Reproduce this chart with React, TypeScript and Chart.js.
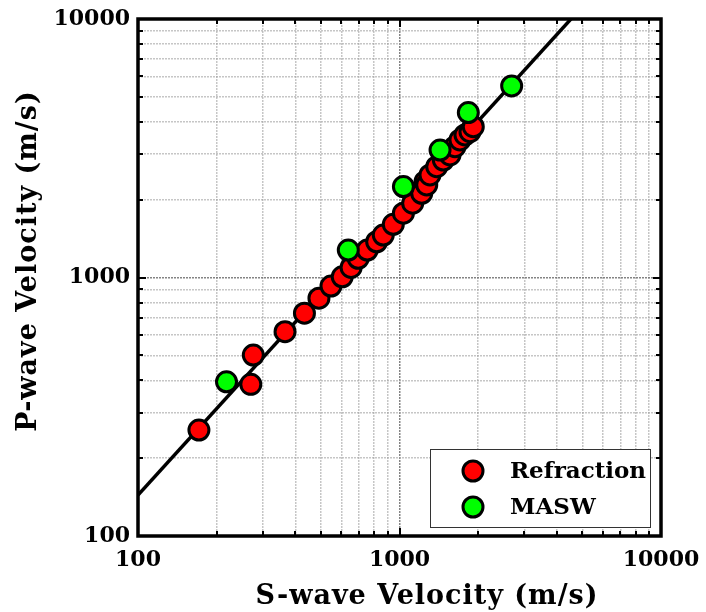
import React, { useEffect, useRef } from 'react';
import { Chart, registerables } from 'chart.js';

Chart.register(...registerables);

// Seismic refraction picks: S-wave and P-wave velocities (m/s)
const refractionVs = [171, 270, 276, 365, 433, 492, 547, 604, 653, 695, 753, 818, 867, 947, 1035, 1123, 1216, 1252, 1271, 1308, 1388, 1471, 1560, 1630, 1703, 1780, 1860, 1915];
const refractionVp = [257, 386, 501, 617, 728, 832, 927, 1006, 1094, 1186, 1277, 1375, 1459, 1606, 1773, 1938, 2118, 2348, 2280, 2492, 2683, 2848, 2978, 3207, 3404, 3559, 3665, 3832];

// MASW estimates
const maswVs = [218, 637, 1035, 1429, 1833, 2685];
const maswVp = [395, 1277, 2248, 3111, 4345, 5509];

// Power-law trend line, given by its two end points
const fitVs = [100, 5000];
const fitVp = [144, 11170];

const axisMin = 100;
const axisMax = 10000;
const tickLabels = ['100', '1000', '10000'];
const xTitle = 'S-wave Velocity (m/s)';
const yTitle = 'P-wave Velocity (m/s)';
const legendLabels = ['Refraction', 'MASW'];

const FONT = '"DejaVu Serif", "Liberation Serif", serif';
const MAJOR_GRID = 'rgba(110,110,110,0.85)';
const MINOR_GRID = 'rgba(160,160,160,0.6)';

const isMajor = (v: number) => {
  const l = Math.log10(v);
  return Math.abs(l - Math.round(l)) < 1e-9;
};

// 1..9 x 10^k positions for log grid lines
const decadeTicks = (min: number, max: number) => {
  const out: { value: number }[] = [];
  for (let d = min; d < max; d *= 10) {
    for (let m = 1; m < 10; m++) out.push({ value: m * d });
  }
  out.push({ value: max });
  return out;
};

const toPoints = (xs: number[], ys: number[]) => xs.map((x, i) => ({ x, y: ys[i] }));

const framePlugin = {
  id: 'frameAndLabels',
  afterDraw(chart: any) {
    const { ctx, chartArea: a, scales } = chart;
    const xs = scales.x;
    const ys = scales.y;
    ctx.save();

    // inward tick marks on all four sides
    ctx.strokeStyle = '#000';
    ctx.lineWidth = 2;
    ctx.beginPath();
    for (const t of decadeTicks(axisMin, axisMax)) {
      const len = isMajor(t.value) ? 8 : 5;
      const px = Math.round(xs.getPixelForValue(t.value));
      ctx.moveTo(px, a.bottom);
      ctx.lineTo(px, a.bottom - len);
      ctx.moveTo(px, a.top);
      ctx.lineTo(px, a.top + len);
      const py = Math.round(ys.getPixelForValue(t.value));
      ctx.moveTo(a.left, py);
      ctx.lineTo(a.left + len, py);
      ctx.moveTo(a.right, py);
      ctx.lineTo(a.right - len, py);
    }
    ctx.stroke();

    // axes box
    ctx.lineWidth = 3.5;
    ctx.strokeRect(a.left, a.top, a.right - a.left, a.bottom - a.top);

    // axis titles
    ctx.fillStyle = '#000';
    ctx.font = `bold 27px ${FONT}`;
    (ctx as any).letterSpacing = '1px';
    ctx.textAlign = 'center';
    ctx.textBaseline = 'alphabetic';
    ctx.fillText(xTitle, 427, 604);
    ctx.save();
    ctx.translate(36, 261);
    ctx.rotate(-Math.PI / 2);
    ctx.fillText(yTitle, 0, 0);
    ctx.restore();
    (ctx as any).letterSpacing = '0px';

    // legend
    const bx = 430, by = 449, bw = 220, bh = 78;
    ctx.fillStyle = '#fff';
    ctx.fillRect(bx, by, bw, bh);
    ctx.strokeStyle = '#333';
    ctx.lineWidth = 1;
    ctx.strokeRect(bx + 0.5, by + 0.5, bw, bh);
    const rows = [471, 507];
    legendLabels.forEach((label, i) => {
      const ds = chart.data.datasets[i];
      ctx.beginPath();
      ctx.arc(473, rows[i], ds.pointRadius, 0, Math.PI * 2);
      ctx.fillStyle = ds.pointBackgroundColor;
      ctx.fill();
      ctx.lineWidth = ds.pointBorderWidth;
      ctx.strokeStyle = ds.pointBorderColor;
      ctx.stroke();
      ctx.fillStyle = '#000';
      ctx.font = `bold 23px ${FONT}`;
      ctx.textAlign = 'left';
      ctx.textBaseline = 'middle';
      ctx.fillText(label, 510, rows[i] + 1);
    });
    ctx.restore();
  },
};

const logAxis = (axis: 'x' | 'y') => ({
  type: 'logarithmic' as const,
  min: axisMin,
  max: axisMax,
  afterBuildTicks: (scale: any) => {
    scale.ticks = decadeTicks(axisMin, axisMax);
  },
  afterFit: (scale: any) => {
    if (axis === 'y') {
      scale.width = 138;
      scale.paddingTop = 0;
      scale.paddingBottom = 0;
    } else {
      scale.height = 76;
      scale.paddingLeft = 0;
      scale.paddingRight = 0;
    }
  },
  ticks: {
    autoSkip: false,
    maxRotation: 0,
    padding: axis === 'y' ? 8 : 11,
    color: '#000',
    font: { family: FONT, size: 22, weight: 'bold' as const },
    callback: (value: any) => {
      const s = String(Math.round(Number(value)));
      return tickLabels.includes(s) ? s : '';
    },
  },
  grid: {
    drawTicks: false,
    lineWidth: 1.5,
    color: (c: any) => (c.tick && isMajor(c.tick.value) ? MAJOR_GRID : MINOR_GRID),
  },
  border: { display: false, dash: [2, 1] },
});

export default function App() {
  const canvasRef = useRef<HTMLCanvasElement | null>(null);

  useEffect(() => {
    if (!canvasRef.current) return;
    const chart = new Chart(canvasRef.current, {
      type: 'scatter',
      data: {
        datasets: [
          {
            label: legendLabels[0],
            data: toPoints(refractionVs, refractionVp),
            pointRadius: 10,
            pointBorderWidth: 3,
            pointBackgroundColor: '#ff0000',
            pointBorderColor: '#000',
            order: 2,
          },
          {
            label: legendLabels[1],
            data: toPoints(maswVs, maswVp),
            pointRadius: 10,
            pointBorderWidth: 3,
            pointBackgroundColor: '#00ff00',
            pointBorderColor: '#000',
            order: 1,
          },
          {
            label: 'fit',
            data: toPoints(fitVs, fitVp),
            showLine: true,
            pointRadius: 0,
            borderColor: '#000',
            borderWidth: 3.5,
            order: 3,
          },
        ],
      },
      options: {
        responsive: false,
        animation: false,
        layout: { padding: { top: 19, right: 45, left: 0, bottom: 0 } },
        plugins: {
          legend: { display: false },
          tooltip: { enabled: false },
        },
        scales: {
          x: logAxis('x'),
          y: logAxis('y'),
        },
      },
      plugins: [framePlugin],
    });
    return () => chart.destroy();
  }, []);

  return (
    <div style={{ position: 'absolute', left: 0, top: 0, width: 706, height: 612, background: '#fff' }}>
      <canvas ref={canvasRef} width={706} height={612} />
    </div>
  );
}
